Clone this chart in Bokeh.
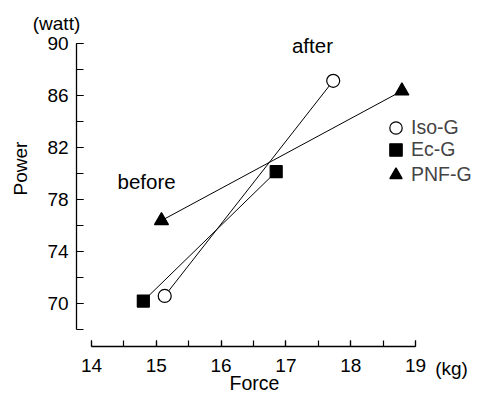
import math
from bokeh.plotting import figure
from bokeh.models import FixedTicker, Label, Legend, LegendItem, Range1d
from bokeh.embed import file_html
from bokeh.resources import INLINE

groups = ["Iso-G", "Ec-G", "PNF-G"]
force_before = [15.13, 14.80, 15.08]
force_after = [17.73, 16.85, 18.79]
power_before = [70.58, 70.19, 76.38]
power_after = [87.13, 80.14, 86.35]
x_ticks = [14, 15, 16, 17, 18, 19]
y_ticks = [70, 74, 78, 82, 86, 90]

FONT = "Liberation Sans"

p = figure(width=478, height=395, output_backend="svg", toolbar_location=None,
           x_range=Range1d(12.596, 19.972), y_range=Range1d(62.923, 93.308),
           min_border=0, min_border_left=0, min_border_right=0,
           min_border_top=0, min_border_bottom=0)
p.outline_line_color = None
p.xgrid.visible = False
p.ygrid.visible = False
p.background_fill_color = "white"
p.border_fill_color = "white"

for ax in (p.xaxis[0], p.yaxis[0]):
    ax.axis_line_color = "black"
    ax.axis_line_width = 1.3
    ax.major_tick_line_color = "black"
    ax.minor_tick_line_color = "black"
    ax.major_tick_line_width = 1.2
    ax.minor_tick_line_width = 1.2
    ax.major_label_text_font = FONT
    ax.major_label_text_font_size = "19px"
    ax.major_label_text_color = "black"
    ax.major_tick_out = 0
    ax.minor_tick_out = 0

p.xaxis[0].fixed_location = 66.69
p.xaxis[0].bounds = (14, 19)
p.xaxis[0].ticker = FixedTicker(ticks=x_ticks,
                                minor_ticks=[14 + 0.5 * i for i in range(11)])
p.xaxis[0].major_tick_in = 6
p.xaxis[0].minor_tick_in = 6
p.xaxis[0].major_label_standoff = 12

p.yaxis[0].fixed_location = 13.769
p.yaxis[0].bounds = (68, 90)
p.yaxis[0].ticker = FixedTicker(ticks=y_ticks,
                                minor_ticks=[68 + 2 * i for i in range(12)])
p.yaxis[0].major_tick_in = 7
p.yaxis[0].minor_tick_in = 7
p.yaxis[0].major_label_standoff = 8

markers = ["circle", "square", "triangle"]
fills = ["white", "black", "black"]
sizes = [13, 12, 14]
for i, g in enumerate(groups):
    p.line([force_before[i], force_after[i]], [power_before[i], power_after[i]],
           line_color="black", line_width=1)

legend_y = [252, 230, 205]
for i, g in enumerate(groups):
    r = p.scatter([force_before[i], force_after[i]], [power_before[i], power_after[i]],
                  marker=markers[i], size=sizes[i], fill_color=fills[i],
                  line_color="black", line_width=1.2)
    lg = Legend(items=[LegendItem(label=g, renderers=[r])], location=(380, legend_y[i]),
                glyph_width=31, glyph_height=31, spacing=0, padding=0, margin=0,
                label_standoff=-2, label_text_font=FONT, label_text_font_size="19.5px",
                border_line_color=None, background_fill_alpha=0)
    p.add_layout(lg, "center")

def lab(x, y, t, size="20px", angle=0.0):
    p.add_layout(Label(x=x, y=y, text=t, text_font=FONT, text_font_size=size,
                       text_align="center", text_baseline="middle", angle=angle,
                       text_color="black"))

lab(14.85, 79.4, "before", "20.5px")
lab(17.41, 89.85, "after", "20.5px")
lab(12.897, 80.38, "Power", "19px", math.pi / 2)
lab(13.46, 91.54, "(watt)", "19px")
lab(16.515, 63.85, "Force", "19.5px")
lab(19.556, 65.0, "(kg)", "19px")

open("out.html", "w").write(file_html(p, INLINE))
